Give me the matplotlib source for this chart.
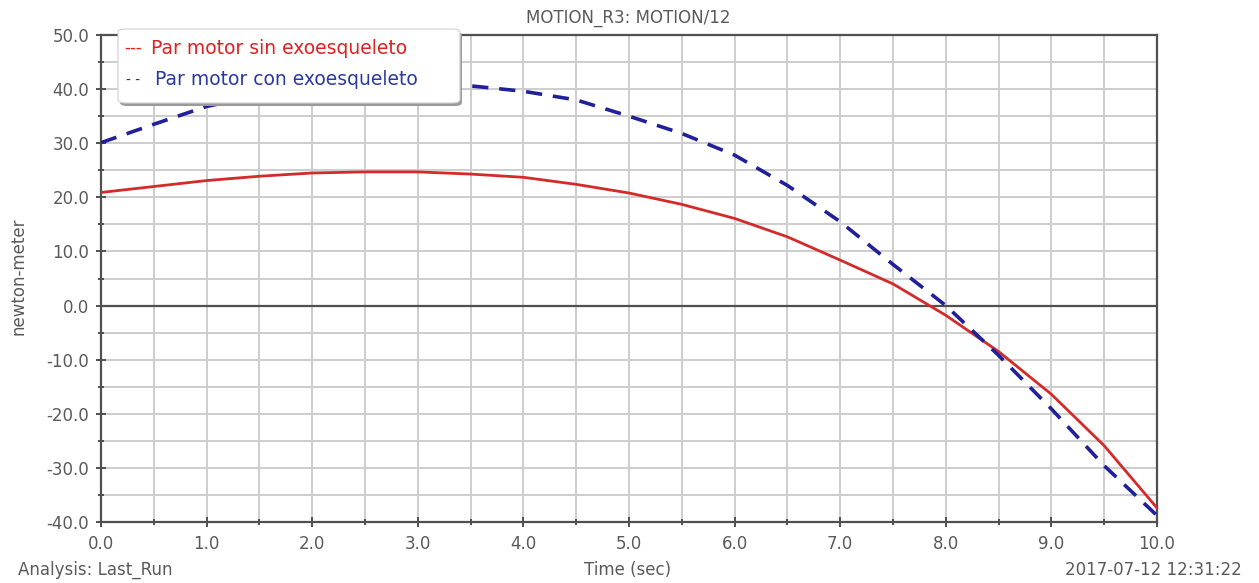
import numpy as np
import matplotlib
matplotlib.use("Agg")
import matplotlib.pyplot as plt
from matplotlib.patches import FancyBboxPatch
from matplotlib.ticker import MultipleLocator, FormatStrFormatter

# tiempo (s) y par motor (N·m)
tiempo = [0.0, 0.5, 1.0, 1.5, 2.0, 2.5, 3.0, 3.5, 4.0, 4.5, 5.0,
          5.5, 6.0, 6.5, 7.0, 7.5, 8.0, 8.5, 9.0, 9.5, 10.0]
par_sin_exo = [20.9, 22.0, 23.1, 23.9, 24.5, 24.7, 24.7, 24.3, 23.7, 22.4, 20.8,
               18.7, 16.1, 12.7, 8.4, 4.0, -1.8, -8.5, -16.4, -25.9, -37.4]
par_con_exo = [30.1, 33.5, 36.8, 38.8, 40.2, 41.0, 41.1, 40.6, 39.6, 38.0, 35.0,
               31.8, 27.8, 22.2, 15.5, 7.6, 0.0, -9.2, -19.1, -29.6, -38.8]

titulo = "MOTION_R3: MOTION/12"
etiqueta_y = "newton-meter"
etiqueta_x = "Time (sec)"
analisis = "Analysis: Last_Run"
fecha = "2017-07-12 12:31:22"
leyenda_sin = "Par motor sin exoesqueleto"
leyenda_con = "Par motor con exoesqueleto"

gris = "#5a5a5a"
plt.rcParams['font.family'] = ['DejaVu Sans']

fig = plt.figure(figsize=(12.59, 5.83), dpi=100)
ax = fig.add_axes([101 / 1259, 1 - 522 / 583, 1056 / 1259, 487 / 583])

ax.plot(tiempo, par_sin_exo, color="#d42a2a", lw=2.0, zorder=3)
ax.plot(tiempo, par_con_exo, color="#20209a", lw=2.6, ls=(0, (4.5, 3.0)), zorder=4)
ax.axhline(0, color="#505050", lw=1.6, zorder=2)

ax.set_xlim(0, 10)
ax.set_ylim(-40, 50)
ax.xaxis.set_major_locator(MultipleLocator(1.0))
ax.xaxis.set_minor_locator(MultipleLocator(0.5))
ax.yaxis.set_major_locator(MultipleLocator(10))
ax.yaxis.set_minor_locator(MultipleLocator(5))
ax.xaxis.set_major_formatter(FormatStrFormatter("%.1f"))
ax.yaxis.set_major_formatter(FormatStrFormatter("%.1f"))
ax.grid(True, which="both", color="#cdcdcd", lw=1.4, zorder=1)
ax.set_axisbelow(True)

for s in ax.spines.values():
    s.set_color("#505050")
    s.set_linewidth(1.6)
ax.tick_params(which="both", direction="inout", color="#505050", width=1.4,
               top=False, right=False)
ax.tick_params(which="major", length=7, labelsize=12, labelcolor=gris, pad=5)
ax.tick_params(which="minor", length=5)
ax.tick_params(axis="x", which="major", pad=6)

fig.text(628 / 1259, 1 - 18 / 583, titulo, ha="center", va="center", fontsize=12, color=gris)
fig.text(19 / 1259, 1 - 276 / 583, etiqueta_y, ha="center", va="center", rotation=90,
         fontsize=12, color=gris)
fig.text(628 / 1259, 1 - 570 / 583, etiqueta_x, ha="center", va="center", fontsize=12, color=gris)
fig.text(18 / 1259, 1 - 570 / 583, analisis, ha="left", va="center", fontsize=12, color=gris)
fig.text(1242 / 1259, 1 - 570 / 583, fecha, ha="right", va="center", fontsize=12, color=gris)

# caja de la leyenda con sombra
x0, y0, w, h = 118 / 1259, 1 - 103 / 583, 342 / 1259, 74 / 583
sombra = FancyBboxPatch((x0 + 2 / 1259, y0 - 3 / 583), w, h, boxstyle="round,pad=0,rounding_size=0.006",
                        transform=fig.transFigure, fc="#9a9a9a", ec="none", zorder=5)
caja = FancyBboxPatch((x0, y0), w, h, boxstyle="round,pad=0,rounding_size=0.006",
                      transform=fig.transFigure, fc="white", ec="#d0d0d0", lw=0.8, zorder=6)
fig.patches.extend([sombra, caja])

fig.text(124 / 1259, 1 - 48 / 583, "---", color="#e02020", fontsize=12, va="center", zorder=7)
fig.text(151 / 1259, 1 - 48 / 583, leyenda_sin, color="#e02020", fontsize=13.5, va="center", zorder=7)
fig.text(126 / 1259, 1 - 80 / 583, "- -", color="#303040", fontsize=10, va="center", zorder=7)
fig.text(155 / 1259, 1 - 80 / 583, leyenda_con, color="#2b3aa0", fontsize=13.5, va="center", zorder=7)

fig.savefig("out.png", dpi=100, facecolor="white")
